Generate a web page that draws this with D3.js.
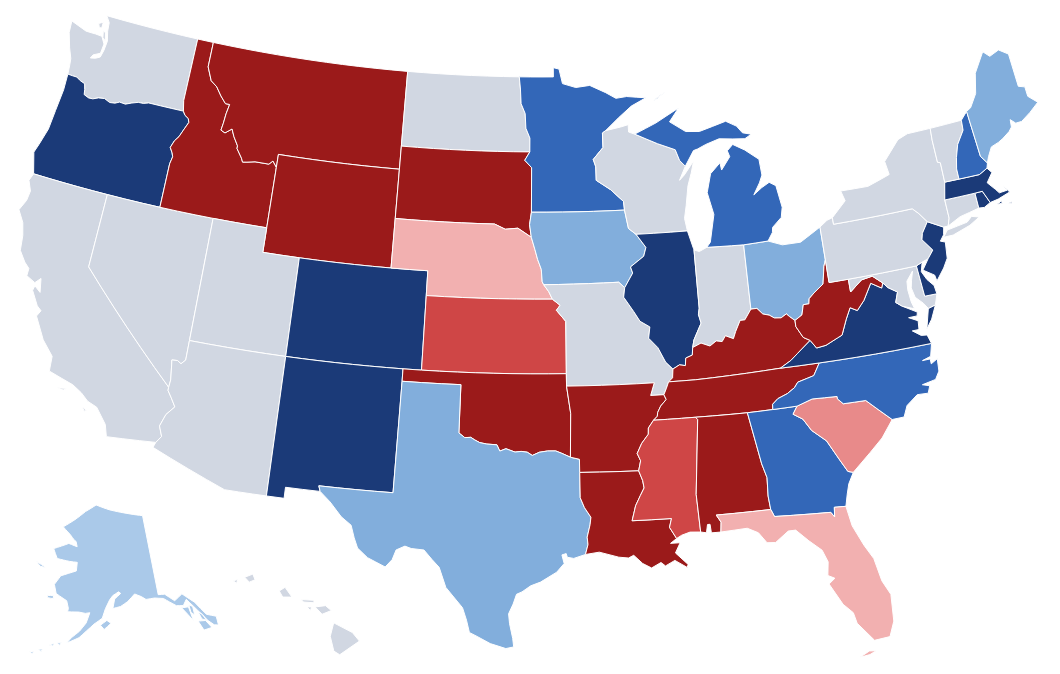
<!DOCTYPE html>
<html>
<head>
<meta charset="utf-8">
<style>body{margin:0;background:#fff}svg{display:block}</style>
<script src="https://cdn.jsdelivr.net/npm/d3@7"></script>
</head>
<body>
<svg id="map" width="1060" height="674"></svg>
<script>
// shared borders, lon/lat
var waCoast = [[-122.76,49],[-122.5,48.75],[-122.45,48.4],[-122.3,48],[-122.35,47.6],[-122.45,47.3],[-122.7,47.2],[-123,47.15],[-122.9,47.3],[-122.5,47.45],[-122.45,47.85],[-122.7,48.13],[-123.1,48.15],[-123.7,48.15],[-124.7,48.38],[-124.65,47.9],[-124.35,47.3],[-124.1,46.9],[-124.05,46.65],[-124,46.26]];
var columbia = [[-124,46.26],[-123.7,46.25],[-123.45,46.25],[-123.2,46.15],[-122.9,46.08],[-122.8,45.85],[-122.75,45.65],[-122.45,45.57],[-122.2,45.58],[-121.9,45.68],[-121.55,45.72],[-121.2,45.62],[-120.9,45.65],[-120.65,45.74],[-120.3,45.72],[-119.95,45.83],[-119.6,45.92],[-119.3,45.93],[-119,46],[-116.92,46]];
var snake = [[-116.92,46],[-116.78,45.85],[-116.55,45.75],[-116.47,45.6],[-116.68,45.25],[-116.85,44.95],[-117.05,44.75],[-117.2,44.45],[-117.03,44.25],[-116.95,44.1],[-117.03,43.8]];
var bitterroot = [[-116.05,49],[-116.05,47.98],[-115.7,47.45],[-115.3,47.25],[-114.95,46.92],[-114.6,46.65],[-114.35,46.65],[-114.45,46.25],[-114.5,45.85],[-114.56,45.56],[-114.3,45.48],[-113.94,45.69],[-113.75,45.4],[-113.45,45.06],[-113.45,44.95],[-113.1,44.6],[-113,44.45],[-112.75,44.48],[-112.3,44.55],[-111.9,44.55],[-111.5,44.55],[-111.3,44.7],[-111.05,44.47]];
var colorado = [[-114.72,32.72],[-114.5,33],[-114.7,33.4],[-114.5,33.9],[-114.14,34.27],[-114.4,34.6],[-114.63,34.87],[-114.63,35]];
var nvAz = [[-114.63,35],[-114.6,35.3],[-114.7,35.9],[-114.74,36.1],[-114.45,36.12],[-114.25,36.02],[-114.05,36.2],[-114.05,37]];
var redRiver = [[-100,34.56],[-99.7,34.38],[-99.4,34.4],[-99.2,34.3],[-98.95,34.2],[-98.6,34.15],[-98.1,34.13],[-97.95,33.88],[-97.65,33.98],[-97.2,33.85],[-96.9,33.88],[-96.6,33.85],[-96.35,33.72],[-96,33.85],[-95.6,33.9],[-95.2,33.9],[-94.9,33.8],[-94.48,33.64]];
var sabine = [[-94.04,32],[-93.85,31.6],[-93.55,31.2],[-93.6,30.9],[-93.75,30.4],[-93.72,30.1],[-93.85,29.7]];
var iaNe = [[-96.45,42.49],[-96.25,42],[-96.1,41.6],[-95.9,41.2],[-95.85,40.7],[-95.77,40.58]];
var moNe = [[-95.77,40.58],[-95.5,40.3],[-95.31,40]];
var ksMo = [[-95.31,40],[-94.9,39.75],[-95.1,39.55],[-94.61,39.1]];
var bigSioux = [[-96.45,43.5],[-96.55,43],[-96.45,42.49]];
var redNorth = [[-96.56,45.94],[-96.56,46.5],[-96.8,46.9],[-96.85,47.5],[-97.1,47.9],[-97.15,48.5],[-97.23,49]];
var wiMn = [[-92.1,46.75],[-92.29,46.66],[-92.29,46.07],[-92.88,45.6],[-92.75,45.3],[-92.75,44.75]];
var missA = [[-92.75,44.75],[-91.95,44.35],[-91.25,43.85],[-91.22,43.5]];
var missB1 = [[-91.22,43.5],[-91.05,42.75],[-90.65,42.5]];
var missB2 = [[-90.65,42.5],[-90.15,41.95],[-90.3,41.6],[-91.05,41.2],[-90.95,40.95],[-91.42,40.38]];
var missC = [[-91.42,40.38],[-91.5,40],[-91,39.4],[-90.7,39],[-90.2,38.75],[-90.3,38.3],[-89.85,37.9],[-89.5,37.3],[-89.15,37]];
var missD1 = [[-89.15,37],[-89.2,36.65],[-89.42,36.5]];
var missD2 = [[-89.42,36.5],[-89.55,36.25],[-89.7,36]];
var missE = [[-89.7,36],[-89.6,35.8],[-89.9,35.55],[-90.07,35.3],[-90.1,35.15],[-90.3,35]];
var missF = [[-90.3,35],[-90.58,34.7],[-90.6,34.45],[-90.95,34.1],[-91.2,33.7],[-91.05,33.4],[-91.17,33]];
var missG = [[-91.17,33],[-91,32.6],[-90.95,32.3],[-91.15,32],[-91.4,31.6],[-91.5,31.3],[-91.6,31]];
var pearl = [[-89.73,31],[-89.85,30.65],[-89.55,30.18]];
var ohioA = [[-89.15,37],[-88.8,37.15],[-88.5,37.1],[-88.45,37.4],[-88.1,37.5],[-88.05,37.8]];
var ohioB = [[-88.05,37.8],[-87.6,37.95],[-87.15,37.8],[-86.8,37.98],[-86.5,37.93],[-86.3,38.15],[-85.9,38],[-85.75,38.27],[-85.45,38.7],[-85.2,38.7],[-84.82,39.1]];
var ohioC = [[-84.82,39.1],[-84.5,39.1],[-84.23,38.85],[-83.9,38.77],[-83.65,38.63],[-83.3,38.6],[-83,38.73],[-82.85,38.6],[-82.6,38.42]];
var ohioD = [[-82.6,38.42],[-82.2,38.6],[-82.05,39],[-81.75,39],[-81.7,39.2],[-81.4,39.4],[-80.85,39.7],[-80.65,40.4],[-80.52,40.64]];
var inIl = [[-87.53,41.7],[-87.53,39.35],[-87.6,39.1],[-87.5,38.75],[-87.95,38.1],[-88.05,37.8]];
var tug = [[-82.6,38.42],[-82.6,38.17],[-82.3,37.7],[-81.97,37.54]];
var kyVa = [[-81.97,37.54],[-82.7,37.1],[-83.1,36.85],[-83.68,36.6]];
var wvVa = [[-81.97,37.54],[-81.7,37.2],[-81.2,37.25],[-80.55,37.47],[-80.3,37.55],[-79.95,38.15],[-79.65,38.58],[-79.3,38.42],[-78.87,38.77],[-78.35,39.4],[-77.83,39.13],[-77.72,39.32]];
var wvMd = [[-77.72,39.32],[-78.2,39.67],[-78.8,39.6],[-79.48,39.2]];
var potomac = [[-76.95,38.25],[-77.25,38.45],[-77.05,38.85],[-77.5,39.1],[-77.72,39.32]];
var tnNc = [[-84.32,34.99],[-84.3,35.2],[-84,35.4],[-83.5,35.55],[-83.1,35.75],[-82.9,35.95],[-82.4,36.05],[-82.05,36.12],[-81.68,36.59]];
var ncSc = [[-83.1,35],[-82.3,35.2],[-81.05,35.15],[-81.05,35.05],[-80.8,34.82],[-79.67,34.8],[-78.55,33.86]];
var savannah = [[-83.1,35],[-83.35,34.7],[-82.9,34.45],[-82.55,33.95],[-81.9,33.45],[-81.4,32.6],[-81.1,32.1],[-80.85,32.03]];
var stMarys = [[-81.45,30.72],[-82,30.75],[-82.05,30.36],[-82.2,30.57]];
var chatt = [[-85,31],[-85.05,31.55],[-85,32.3],[-85.18,32.87],[-85.6,34.98]];
var perdido = [[-87.6,31],[-87.4,30.7],[-87.45,30.3]];

function rev(seg) { return seg.slice().reverse(); }
function ring() { return [].concat.apply([], arguments); }

// state outlines
var WA = [ring(waCoast, columbia, [[-117.04,46.42],[-117.03,49]]),
  [[-122.72,48.4],[-122.55,48.3],[-122.42,47.98],[-122.62,48.1]],[[-123.1,48.6],[-122.85,48.7],[-122.85,48.45],[-123,48.45]]];
var OR = [ring([[-124,46.26],[-123.97,45.6],[-124.07,44.7],[-124.15,43.9],[-124.4,43.2],[-124.55,42.84],[-124.21,42],[-120,42],[-117.03,42]], rev(snake), rev(columbia))];
var CA = [ring([[-124.21,42],[-124.35,41.7],[-124.1,41.3],[-124.15,40.9],[-124.4,40.45],[-124,40],[-123.8,39.5],[-123.7,38.9],[-123.3,38.5],[-123,38.3],[-123,38],[-122.5,37.82],[-122.25,38.05],[-122.1,37.5],[-122.45,37.7],[-122.5,37.5],[-122.05,36.95],[-121.8,36.8],[-121.95,36.55],[-121.3,35.7],[-120.65,35.15],[-120.6,34.55],[-119.3,34.25],[-118.8,34.02],[-118.4,33.75],[-117.9,33.6],[-117.3,33],[-117.12,32.53]], colorado, [[-120,39],[-120,42]]),
  [[-120,33.98],[-119.55,34.05],[-119.7,33.95]],[[-118.6,33.48],[-118.35,33.38],[-118.45,33.33]]];
var NV = [ring([[-120,42],[-120,39]], nvAz, [[-114.04,42]])];
var ID = [ring([[-117.03,49]], bitterroot, [[-111.05,42],[-114.04,42],[-117.03,42]], rev(snake), [[-117.04,46.42]])];
var MT = [ring([[-116.05,49],[-104.05,49],[-104.05,45.94],[-104.05,45],[-111.05,45]], rev(bitterroot))];
var WY = [[[-111.05,45],[-104.05,45],[-104.05,43],[-104.05,41],[-111.05,41],[-111.05,42],[-111.05,44.47]]];
var UT = [[[-114.04,42],[-111.05,42],[-111.05,41],[-109.05,41],[-109.05,37],[-114.05,37]]];
var AZ = [ring([[-114.05,37],[-109.05,37],[-109.05,31.33],[-111.07,31.33],[-114.81,32.5]], colorado, nvAz)];
var CO = [[[-109.05,41],[-104.05,41],[-102.05,41],[-102.05,40],[-102.05,37],[-103,37],[-109.05,37]]];
var NM = [[[-109.05,37],[-103,37],[-103,36.5],[-103.04,32],[-106.62,32],[-106.53,31.78],[-108.2,31.78],[-108.2,31.33],[-109.05,31.33]]];
var ND = [ring([[-104.05,49],[-97.23,49]], rev(redNorth), [[-104.05,45.94]])];
var SD = [ring([[-104.05,45.94],[-96.56,45.94],[-96.85,45.6],[-96.45,45.3]], bigSioux, [[-97.2,42.85],[-97.9,42.8],[-98.5,43],[-104.05,43],[-104.05,45]])];
var NE = [ring([[-104.05,43],[-98.5,43],[-97.9,42.8],[-97.2,42.85]], iaNe, moNe, [[-102.05,40],[-102.05,41],[-104.05,41]])];
var KS = [ring([[-102.05,40]], ksMo, [[-94.62,37],[-102.05,37]])];
var OK = [ring([[-103,37],[-102.05,37],[-94.62,37],[-94.62,36.5],[-94.43,35.4]], rev(redRiver), [[-100,36.5],[-103,36.5]])];
var TX = [ring([[-103,36.5],[-100,36.5]], redRiver, [[-94.04,33.55],[-94.04,33.02]], sabine,
  [[-94.4,29.55],[-94.7,29.6],[-94.75,29.75],[-94.95,29.7],[-94.85,29.35],[-95.2,29],[-95.95,28.6],[-96.4,28.45],[-96.8,28.2],[-97.05,28.1],[-97.2,27.7],[-97.4,27.3],[-97.35,26.9],[-97.2,26.3],[-97.15,25.95],[-97.5,25.88],[-98.2,26.07],[-98.8,26.35],[-99.15,26.5],[-99.3,27],[-99.5,27.5],[-100,28],[-100.3,28.3],[-100.65,29.1],[-101,29.4],[-101.4,29.77],[-102,29.8],[-102.3,29.88],[-102.7,29.7],[-102.85,29.3],[-103.15,28.98],[-103.6,29.15],[-104,29.3],[-104.5,29.65],[-104.7,30.05],[-104.9,30.55],[-105.4,30.85],[-106,31.4],[-106.53,31.78],[-106.62,32],[-103.04,32]])];
var MN = [ring([[-97.23,49],[-95.15,49],[-95.15,49.38],[-94.8,49.32],[-94.6,48.72],[-93.8,48.55],[-92.95,48.62],[-92,48.3],[-91.4,48.05],[-90.75,48.1],[-89.6,48],[-90.5,47.7],[-91.3,47.25]], wiMn, missA, [[-96.45,43.5],[-96.45,45.3],[-96.85,45.6]], redNorth)];
var IA = [ring([[-96.45,43.5]], missB1, missB2, [[-91.73,40.61]], rev(iaNe), rev(bigSioux))];
var MO = [ring([[-95.77,40.58],[-91.73,40.61]], missC, missD1, missD2, [[-90.37,36],[-90.15,36.5],[-94.62,36.5],[-94.62,37]], rev(ksMo), rev(moNe))];
var AR = [ring([[-94.62,36.5],[-90.15,36.5],[-90.37,36]], missE, missF, [[-94.04,33.02],[-94.04,33.55],[-94.48,33.64],[-94.43,35.4]])];
var LA = [ring([[-94.04,33.02]], missG, pearl, [[-89.85,30],[-89.4,30],[-89.65,29.6],[-89.1,29.1],[-89.15,28.98],[-89.7,29.3],[-90.15,29.1],[-90.35,29.25],[-90.8,29.05],[-91.2,29.25],[-91.6,29.6],[-91.85,29.5],[-92.3,29.55],[-93.2,29.78]], rev(sabine))];
var WI = [ring([[-92.1,46.75],[-91.2,46.87],[-90.75,46.95],[-90.75,46.65],[-90.4,46.55],[-89.1,46.1],[-88.1,45.8],[-87.9,45.35],[-87.6,45.1],[-88,44.55],[-87.7,44.75],[-87.1,45.28],[-87.3,44.8],[-87.55,44.3],[-87.75,43.5],[-87.9,43],[-87.8,42.49]], rev(missB1), rev(missA), rev(wiMn))];
var IL = [ring([[-90.65,42.5],[-87.8,42.49],[-87.55,41.75]], inIl, rev(ohioA), rev(missC), rev(missB2))];
var IN = [ring([[-87.53,41.7],[-87.25,41.62],[-86.82,41.76],[-84.8,41.7]], rev(ohioB), rev(inIl))];
var OH = [ring([[-84.8,41.7],[-83.45,41.73],[-82.7,41.5],[-81.7,41.5],[-80.52,41.98]], rev(ohioD), rev(ohioC))];
var MI = [[[-86.82,41.76],[-84.8,41.7],[-83.45,41.73],[-83.15,42.05],[-83.1,42.25],[-82.55,42.6],[-82.42,43],[-82.6,43.9],[-82.95,44.07],[-83.4,43.9],[-83.9,43.65],[-83.5,44.1],[-83.3,44.4],[-83.35,45.05],[-84.1,45.5],[-84.75,45.78],[-85.1,45.55],[-85,45.3],[-85.55,44.8],[-85.6,45.1],[-86.2,44.7],[-86.5,43.95],[-86.25,43.05],[-86.6,41.95]],
  [[-90.4,46.55],[-89.1,46.95],[-88.45,47.2],[-87.7,47.48],[-88.3,46.95],[-87.4,46.5],[-86.6,46.45],[-85,46.75],[-84.4,46.5],[-84.1,46.2],[-83.6,46.1],[-84,45.95],[-84.7,46],[-85.5,46.07],[-86.3,45.9],[-86.8,45.75],[-87.05,45.7],[-87.6,45.1],[-87.9,45.35],[-88.1,45.8],[-89.1,46.1]],
  [[-89.2,47.85],[-88.45,48.18],[-88.9,47.95]]];
var KY = [ring(ohioA, ohioB, ohioC, tug, kyVa, [[-88.05,36.5]], rev(missD1))];
var TN = [ring([[-81.68,36.59],[-83.68,36.6],[-88.05,36.5]], missD2, missE, [[-88.2,35],[-85.6,34.98]], tnNc)];
var MS = [ring(rev(missF), [[-88.2,35],[-88.1,34.9],[-88.47,31.9],[-88.4,30.37],[-88.9,30.4],[-89.3,30.3]], rev(pearl), rev(missG))];
var AL = [ring([[-88.2,35]], rev(chatt), perdido, [[-87.9,30.3],[-87.93,30.65],[-88.05,30.65],[-88.13,30.32],[-88.4,30.37],[-88.47,31.9],[-88.1,34.9]])];
var GA = [ring([[-85.6,34.98],[-84.32,34.99]], savannah, [[-81.15,31.6],[-81.3,31.2]], stMarys, [[-84.86,30.7]], chatt)];
var FL = [ring([[-87.6,31]], [[-85,31],[-84.86,30.7]], rev(stMarys), [[-81.3,29.9],[-80.9,29.05],[-80.55,28.45],[-80.35,27.5],[-80.05,26.9],[-80.12,25.8],[-80.4,25.2],[-81.1,25.15],[-81.75,25.95],[-81.85,26.4],[-82.25,26.8],[-82.75,27.7],[-82.45,27.9],[-82.75,28.05],[-82.65,28.6],[-82.85,29.1],[-83.4,29.55],[-83.95,30.05],[-84.3,30.05],[-84.95,29.65],[-85.35,29.68],[-85.7,30.12],[-86.2,30.35]], rev(perdido)),
  [[-81.85,24.55],[-81.4,24.75],[-81.1,24.72],[-81.4,24.6]]];
var SC = [ring(ncSc, [[-79.2,33.2],[-79.9,32.7]], rev(savannah))];
var NC = [ring([[-84.32,34.99]], ncSc, [[-77.95,33.87],[-77.7,34.3],[-77.1,34.65],[-76.55,34.62],[-76.4,34.9],[-76.75,35],[-76.05,35.1],[-75.8,35.4],[-75.75,35.9],[-76.1,35.75],[-76.1,35.95],[-76.5,35.95],[-76.05,36.05],[-75.87,36.55],[-81.68,36.59]], rev(tnNc))];
var VA = [ring([[-83.68,36.6],[-81.68,36.59],[-75.87,36.55],[-76,36.92],[-76.3,36.95],[-76.7,37.2],[-76.35,37.2],[-76.3,37.55],[-76.75,37.75],[-76.3,37.75],[-76.25,37.9]], potomac, rev(wvVa), kyVa),
  [[-75.95,37.15],[-75.65,37.95],[-75.25,38.03],[-75.6,37.5]]];
var WV = [ring(ohioD, [[-80.52,39.72],[-79.48,39.72]], rev(wvMd), rev(wvVa), rev(tug))];
var MD = [ring([[-79.48,39.72],[-75.79,39.72],[-75.7,38.46],[-75.05,38.45],[-75.25,38.03],[-75.65,37.95],[-75.85,38.2],[-76.2,38.5],[-76.3,38.9],[-76.2,39.2],[-76.05,39.55],[-76.45,39.2],[-76.5,38.85],[-76.45,38.35],[-76.35,38.05]], potomac, wvMd)];
var DE = [[[-75.79,39.72],[-75.45,39.82],[-75.6,39.45],[-75.4,39.1],[-75.1,38.8],[-75.05,38.45],[-75.7,38.46]]];
var PA = [[[-80.52,41.98],[-80.08,42.2],[-79.76,42.27],[-79.76,42],[-75.35,42],[-75.05,41.75],[-74.7,41.36],[-75.1,40.95],[-75.2,40.7],[-74.75,40.2],[-75.1,39.9],[-75.45,39.82],[-75.79,39.72],[-79.48,39.72],[-80.52,39.72],[-80.52,40.64]]];
var NJ = [[[-74.7,41.36],[-73.9,41],[-74,40.7],[-74.25,40.48],[-74,40.4],[-74.1,39.75],[-74.4,39.4],[-74.9,38.95],[-74.95,39.2],[-75.5,39.5],[-75.1,39.9],[-74.75,40.2],[-75.2,40.7],[-75.1,40.95]]];
var NY = [[[-79.76,42],[-79.76,42.27],[-78.9,42.85],[-79.05,43.27],[-77.5,43.25],[-76.4,43.5],[-76.2,43.55],[-76.3,44.1],[-75.3,44.85],[-74.7,45],[-73.35,45],[-73.4,44.5],[-73.4,43.6],[-73.25,43.55],[-73.27,42.75],[-73.5,42.05],[-73.5,41.3],[-73.65,41],[-73.9,41],[-74.7,41.36],[-75.05,41.75],[-75.35,42]],
  [[-74.03,40.6],[-73.75,40.85],[-72.6,40.97],[-72.3,41.15],[-71.9,41.05],[-72.5,40.82],[-73.5,40.6]]];
var CT = [[[-73.5,42.05],[-71.8,42.02],[-71.8,41.4],[-72.9,41.25],[-73.65,41],[-73.5,41.3]]];
var RI = [[[-71.8,42.02],[-71.38,42.02],[-71.12,41.5],[-71.5,41.37],[-71.8,41.4]]];
var MA = [[[-73.5,42.05],[-73.27,42.75],[-72.46,42.73],[-71.3,42.7],[-70.8,42.87],[-70.6,42.65],[-71,42.3],[-70.65,41.95],[-70.5,41.78],[-70.05,41.8],[-70.2,42.07],[-69.95,41.7],[-70.65,41.55],[-71.12,41.5],[-71.38,42.02],[-71.8,42.02]],
  [[-70.8,41.35],[-70.5,41.45],[-70.5,41.35]],[[-70.2,41.28],[-69.97,41.3],[-70,41.24]]];
var VT = [[[-73.35,45],[-71.5,45.01],[-71.55,44.6],[-72.05,44.1],[-72.3,43.6],[-72.45,43.15],[-72.46,42.73],[-73.27,42.75],[-73.25,43.55],[-73.4,43.6],[-73.4,44.5]]];
var NH = [[[-71.5,45.01],[-71.08,45.3],[-70.98,43.4],[-70.7,43.07],[-70.8,42.87],[-71.3,42.7],[-72.46,42.73],[-72.45,43.15],[-72.3,43.6],[-72.05,44.1],[-71.55,44.6]]];
var ME = [[[-71.08,45.3],[-70.8,45.4],[-70.3,45.9],[-70,46.7],[-69.23,47.46],[-68.9,47.2],[-68.3,47.35],[-67.8,47.07],[-67.8,45.7],[-67.45,45.6],[-67.45,45.2],[-67,44.85],[-67.6,44.55],[-68.2,44.3],[-68.55,44.3],[-68.8,44.5],[-68.85,44.2],[-69.05,44.05],[-69.5,43.85],[-69.8,43.75],[-70.25,43.65],[-70.55,43.3],[-70.7,43.07],[-70.98,43.4]]];
var AK = [[[-141,69.65],[-141,60.3],[-139.5,60.2],[-137.6,59.2],[-135.6,59.75],[-134.2,58.9],[-133.4,58.4],[-131.8,56.65],[-130,56.05],[-130.2,55],[-131,55.2],[-131.9,55.9],[-132.8,56.9],[-133.9,58],[-135,59],[-136,58.4],[-137.5,58.6],[-138.8,59.2],[-140,59.75],[-142,60],[-144,60],[-145,60.4],[-146.5,60.8],[-148.3,60],[-150,59.5],[-151.8,59.3],[-151.3,60.4],[-149.8,61],[-150.3,61.2],[-151.7,60.8],[-152.5,60.3],[-153.5,59.3],[-154.2,58.2],[-156,57.5],[-157.5,56.7],[-159,55.85],[-161.4,55.1],[-160.6,55.75],[-159,56.6],[-157.7,57.6],[-157,58.8],[-158,58.7],[-159.5,58.8],[-162,58.7],[-161.9,59.1],[-162.5,59.95],[-165.2,60.6],[-166,61.6],[-164.8,62.7],[-163,63.1],[-161,63.5],[-161,64.5],[-163,64.5],[-166.5,64.6],[-168,65.65],[-164,66.55],[-161.5,66.3],[-162,66.9],[-162.5,67],[-164,67.6],[-166.5,68.35],[-163.2,69.4],[-160,70.5],[-156.5,71.35],[-152,70.8],[-146,70.2]],
  [[-154.6,57.4],[-153.2,57.95],[-152.3,57.6],[-153.8,56.9]],[[-167.2,60.2],[-165.7,60.3],[-165.7,59.95],[-167,59.95]],[[-171.7,63.75],[-169.5,63.4],[-168.8,63.3],[-170.5,63.3]],
  [[-136.5,58.2],[-135,58.1],[-134.8,56.4],[-135.6,57.3]],[[-134.8,58.3],[-134.1,58],[-134.2,57],[-134.8,57.4]],[[-133.9,56.2],[-132.4,56],[-131.6,55],[-133.3,55]],[[-133.3,57.2],[-132.6,56.8],[-132.2,56],[-133,56.3]],
  [[-163.4,54.95],[-162.5,55.05],[-162.8,54.75]],[[-164.9,54.6],[-163.9,54.85],[-164,54.55]],[[-166.8,53.9],[-166,54],[-166.2,53.7]],[[-168.4,53.4],[-167.6,53.55],[-167.8,53.25]]];
var HI = [[[-155.9,20.25],[-155.1,19.85],[-154.8,19.5],[-155.65,18.95],[-155.9,19.1],[-156.05,19.7]],
  [[-156.7,20.9],[-156.25,20.95],[-156,20.75],[-156.4,20.6]],[[-158.25,21.55],[-158,21.7],[-157.7,21.3],[-158.1,21.3]],
  [[-159.75,22.1],[-159.4,22.23],[-159.3,22],[-159.55,21.9]],[[-157.3,21.2],[-156.75,21.17],[-156.75,21.07],[-157.2,21.1]],
  [[-157.05,20.9],[-156.85,20.9],[-156.9,20.75]],[[-160.25,21.95],[-160.05,22],[-160.1,21.85]]];

var stateIds = ["WA","OR","CA","NV","ID","MT","WY","UT","AZ","CO","NM","ND","SD","NE","KS","OK","TX","MN","IA","MO","AR","LA","WI","IL","IN","OH","MI","KY","TN","MS","AL","GA","FL","SC","NC","VA","WV","MD","DE","PA","NJ","NY","CT","RI","MA","VT","NH","ME","AK","HI"];
var stateShapes = [WA,OR,CA,NV,ID,MT,WY,UT,AZ,CO,NM,ND,SD,NE,KS,OK,TX,MN,IA,MO,AR,LA,WI,IL,IN,OH,MI,KY,TN,MS,AL,GA,FL,SC,NC,VA,WV,MD,DE,PA,NJ,NY,CT,RI,MA,VT,NH,ME,AK,HI];

// rating of each state, same order as stateIds
var stateRatings = ["none","safeD","none","none","safeR","safeR","safeR","none","none","safeD","safeD","none","safeR","leanR","likelyR","safeR","leanD","likelyD","leanD","none","safeR","safeR","none","safeD","none","leanD","likelyD","safeR","safeR","likelyR","safeR","likelyD","leanR","tiltR","likelyD","safeD","safeR","none","safeD","none","safeD","none","none","safeD","safeD","none","likelyD","leanD","tiltD","none"];

var ratingKeys = ["safeD","likelyD","leanD","tiltD","none","leanR","tiltR","likelyR","safeR"];
var ratingColors = ["#1b3a78","#3367b8","#82aedc","#aac9e9","#d1d7e2","#f2b0b0","#e88a8a","#cf4646","#9b1a1a"];

var color = d3.scaleOrdinal().domain(ratingKeys).range(ratingColors);

var k = 1413, tx = 528, ty = 331.5;
var lower48 = d3.geoAlbers().scale(k).translate([tx, ty]);
var alaska = d3.geoConicEqualArea().rotate([154, 0]).center([-2, 58.5]).parallels([55, 65])
	.scale(k * .35).translate([tx - .307 * k, ty + .201 * k]);
var hawaii = d3.geoConicEqualArea().rotate([157, 0]).center([-3, 19.9]).parallels([8, 18])
	.scale(k).translate([tx - .205 * k, ty + .212 * k]);

function projectionFor(id) {
	return id === "AK" ? alaska : id === "HI" ? hawaii : lower48;
}

// long borders follow parallels, so step along them before projecting
function stepRing(pts) {
	var out = [];
	pts.forEach(function(p, i) {
		var q = pts[(i + 1) % pts.length];
		var n = Math.max(Math.ceil(Math.abs(q[0] - p[0])), 1);
		for (var j = 0; j < n; j++) {
			out.push([p[0] + (q[0] - p[0]) * j / n, p[1] + (q[1] - p[1]) * j / n]);
		}
	});
	return out;
}

var line = d3.line().curve(d3.curveLinearClosed);

d3.select("#map").selectAll("path")
	.data(stateIds)
	.enter().append("path")
	.attr("d", function(id, i) {
		var proj = projectionFor(id);
		return stateShapes[i].map(function(r) {
			return line(stepRing(r).map(proj));
		}).join("");
	})
	.attr("fill", function(id, i) { return color(stateRatings[i]); })
	.attr("stroke", "#fff")
	.attr("stroke-width", 1)
	.attr("stroke-linejoin", "round");
</script>
</body>
</html>
